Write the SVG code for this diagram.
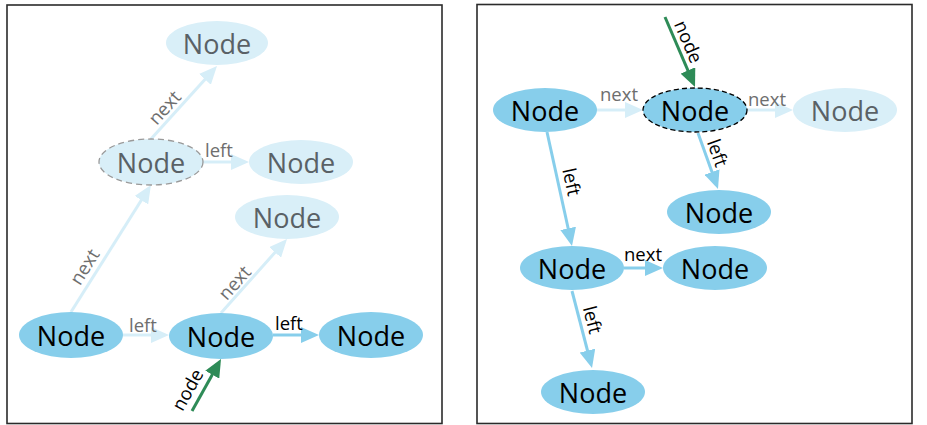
<svg xmlns="http://www.w3.org/2000/svg" width="927" height="425" viewBox="0 0 927 425">
  <style>
    .frame { fill: #ffffff; stroke: #2b2b2b; stroke-width: 1.6; }
    .on { fill: #87ceeb; }
    .off { fill: #d9eff8; }
    .nt { font-family: "Open Sans", "Noto Sans", sans-serif; font-size: 27px; text-anchor: middle; }
    .nt.on-t { fill: #000000; }
    .nt.off-t { fill: #596166; }
    .lbl { font-family: "Open Sans", "Noto Sans", sans-serif; font-size: 18.5px; text-anchor: middle; }
    .lbl.dark { fill: #000000; }
    .lbl.dim { fill: #6e6e6e; }
    .e-on { stroke: #87ceeb; stroke-width: 3; fill: none; marker-end: url(#head-on); }
    .e-off { stroke: #d6eef8; stroke-width: 3; fill: none; marker-end: url(#head-off); }
    .e-ptr { stroke: #2e8b57; stroke-width: 3; fill: none; marker-end: url(#head-ptr); }
  </style>
  <defs>
    <marker id="head-on" markerUnits="userSpaceOnUse" markerWidth="18" markerHeight="16" refX="4" refY="8" orient="auto">
      <path d="M0,0 L18,8 L0,16 z" fill="#87ceeb"/>
    </marker>
    <marker id="head-off" markerUnits="userSpaceOnUse" markerWidth="18" markerHeight="16" refX="4" refY="8" orient="auto">
      <path d="M0,0 L18,8 L0,16 z" fill="#d6eef8"/>
    </marker>
    <marker id="head-ptr" markerUnits="userSpaceOnUse" markerWidth="18" markerHeight="16" refX="4" refY="8" orient="auto">
      <path d="M0,0 L18,8 L0,16 z" fill="#2e8b57"/>
    </marker>
  </defs>

  <!-- panel frames -->
  <rect class="frame" x="7" y="5" width="435" height="418.5"/>
  <rect class="frame" x="477" y="4.5" width="435" height="419"/>

  <!-- connectors -->
  <g id="connectors">
    <!-- left panel -->
    <line class="e-off" x1="71" y1="312" x2="143.5" y2="196.8"/>
    <line class="e-off" x1="151" y1="139" x2="207.6" y2="76.4"/>
    <line class="e-off" x1="203" y1="162" x2="235" y2="162"/>
    <line class="e-off" x1="123" y1="335" x2="155" y2="335"/>
    <line class="e-off" x1="221" y1="313" x2="277.7" y2="249.4"/>
    <line class="e-on" x1="273" y1="335" x2="305" y2="335"/>
    <line class="e-ptr" x1="192" y1="411" x2="214.2" y2="371.2"/>
    <text class="lbl dim" transform="translate(85,267) rotate(-57.8)" y="6">next</text>
    <text class="lbl dim" transform="translate(165,108) rotate(-47.9)" y="6">next</text>
    <text class="lbl dim" transform="translate(235,283) rotate(-48.3)" y="6">next</text>
    <text class="lbl dim" x="219" y="157">left</text>
    <text class="lbl dim" x="143" y="332">left</text>
    <text class="lbl dark" x="289" y="330">left</text>
    <text class="lbl dark" transform="translate(188,390) rotate(-60.8)" y="6">node</text>

    <!-- right panel -->
    <line class="e-off" x1="597" y1="110" x2="629" y2="110"/>
    <line class="e-off" x1="747" y1="110" x2="779" y2="110"/>
    <line class="e-ptr" x1="665" y1="17" x2="689.5" y2="74.1"/>
    <line class="e-on" x1="698" y1="133" x2="713.3" y2="175.8"/>
    <line class="e-on" x1="547" y1="132" x2="569" y2="232.3"/>
    <line class="e-on" x1="624" y1="268" x2="649" y2="268"/>
    <line class="e-on" x1="572" y1="291" x2="588.5" y2="354.5"/>
    <text class="lbl dim" x="619" y="101">next</text>
    <text class="lbl dim" x="767" y="106">next</text>
    <text class="lbl dark" x="643" y="261">next</text>
    <text class="lbl dark" transform="translate(688,42) rotate(66.8)" y="6">node</text>
    <text class="lbl dark" transform="translate(717,153) rotate(70.3)" y="6">left</text>
    <text class="lbl dark" transform="translate(571,182) rotate(77.6)" y="6">left</text>
    <text class="lbl dark" transform="translate(592,320) rotate(75.4)" y="6">left</text>
  </g>

  <!-- left panel nodes -->
  <g id="l-top">
    <ellipse class="off" cx="217" cy="43" rx="51" ry="22"/>
    <text class="nt off-t" x="217" y="54">Node</text>
  </g>
  <g id="l-mid">
    <ellipse class="off" cx="151" cy="162" rx="52" ry="23" stroke="#9a9a9a" stroke-width="1.3" stroke-dasharray="6,4"/>
    <text class="nt off-t" x="151" y="173">Node</text>
  </g>
  <g id="l-mid-right">
    <ellipse class="off" cx="301" cy="162" rx="52" ry="22"/>
    <text class="nt off-t" x="301" y="173">Node</text>
  </g>
  <g id="l-upper-right">
    <ellipse class="off" cx="287" cy="217" rx="52" ry="22"/>
    <text class="nt off-t" x="287" y="228">Node</text>
  </g>
  <g id="l-bottom-left">
    <ellipse class="on" cx="71" cy="335" rx="52" ry="23"/>
    <text class="nt on-t" x="71" y="346">Node</text>
  </g>
  <g id="l-bottom-mid">
    <ellipse class="on" cx="221" cy="336" rx="52" ry="23"/>
    <text class="nt on-t" x="221" y="347">Node</text>
  </g>
  <g id="l-bottom-right">
    <ellipse class="on" cx="371" cy="335" rx="52" ry="23"/>
    <text class="nt on-t" x="371" y="346">Node</text>
  </g>

  <!-- right panel nodes -->
  <g id="r-a">
    <ellipse class="on" cx="545" cy="110" rx="52" ry="22"/>
    <text class="nt on-t" x="545" y="121">Node</text>
  </g>
  <g id="r-b">
    <ellipse class="on" cx="695" cy="110" rx="52" ry="22" stroke="#000000" stroke-width="1.3" stroke-dasharray="5,3"/>
    <text class="nt on-t" x="695" y="121">Node</text>
  </g>
  <g id="r-c">
    <ellipse class="off" cx="845" cy="110" rx="52" ry="22"/>
    <text class="nt off-t" x="845" y="121">Node</text>
  </g>
  <g id="r-d">
    <ellipse class="on" cx="719" cy="212" rx="52" ry="22"/>
    <text class="nt on-t" x="719" y="223">Node</text>
  </g>
  <g id="r-e">
    <ellipse class="on" cx="572" cy="268" rx="52" ry="22"/>
    <text class="nt on-t" x="572" y="279">Node</text>
  </g>
  <g id="r-f">
    <ellipse class="on" cx="715" cy="268" rx="52" ry="22"/>
    <text class="nt on-t" x="715" y="279">Node</text>
  </g>
  <g id="r-g">
    <ellipse class="on" cx="593" cy="392" rx="52" ry="22"/>
    <text class="nt on-t" x="593" y="403">Node</text>
  </g>
</svg>
